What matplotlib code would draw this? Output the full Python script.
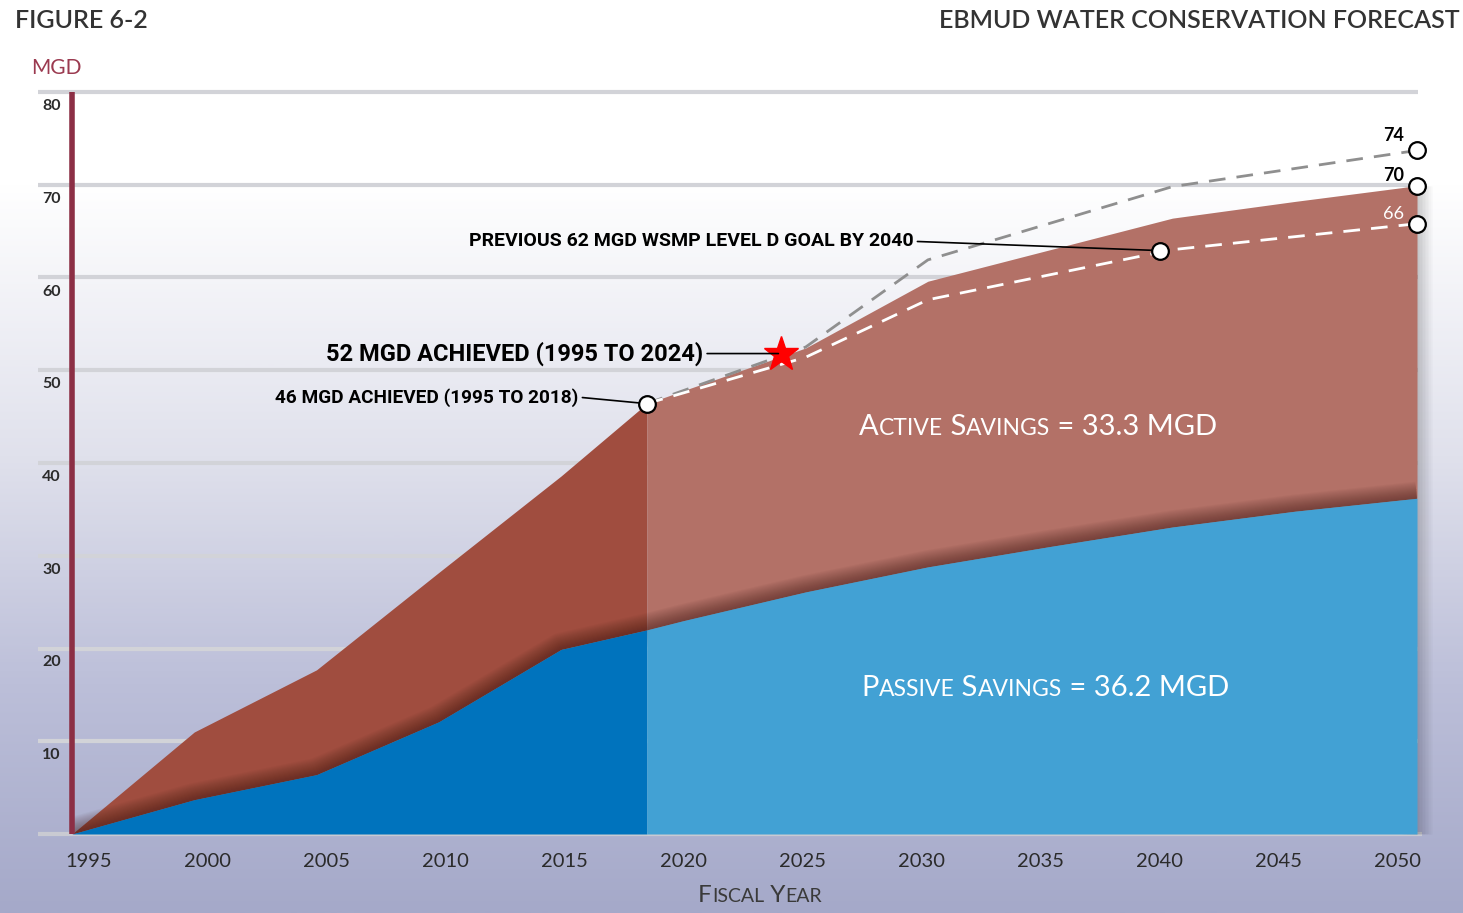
import numpy as np
import matplotlib
matplotlib.use("Agg")
import matplotlib.pyplot as plt
from matplotlib.colors import LinearSegmentedColormap
from matplotlib.offsetbox import TextArea, HPacker, AnnotationBbox
from matplotlib.transforms import ScaledTranslation

# --- data (MGD) ---
years_hist = [1995, 2000, 2005, 2010, 2015, 2018.5]
passive_hist = [0, 3.7, 6.4, 12.1, 19.9, 22.0]
total_hist = [0, 11.0, 17.7, 28.2, 38.6, 46.4]

years_fc = [2018.5, 2020, 2025, 2030, 2035, 2040, 2045, 2050]
passive_fc = [22.0, 23.0, 26.1, 28.8, 31.0, 33.1, 34.8, 36.2]
total_fc = [46.4, 47.8, 52.4, 59.6, 63.0, 66.4, 68.2, 69.9]

years_target = [2018.5, 2025, 2030, 2040, 2050]
target_66 = [46.4, 51.4, 57.6, 63.0, 65.8]
target_74 = [46.4, 52.5, 61.9, 69.8, 73.7]

achieved_2018 = (2018.5, 46.4)
achieved_2024 = (2024, 51.8)
goal_2040 = (2039.5, 62.9)
end_values = [73.7, 69.9, 65.8]
end_labels = ["74", "70", "66"]

tick_years = [1995, 2000, 2005, 2010, 2015, 2020, 2025, 2030, 2035, 2040, 2045, 2050]
y_ticks = [10, 20, 30, 40, 50, 60, 70, 80]

# colours
RED_HIST = "#a04d3f"
RED_FC = "#b37167"
BLUE_HIST = "#0073bd"
BLUE_FC = "#42a1d4"
MAROON = "#8c2f45"
GRID = "#d2d3d8"
TXT = "#2b2b2b"

W, H = 1463, 913
fig = plt.figure(figsize=(W / 100, H / 100), dpi=100)

# background gradient (white top -> lavender bottom)
bg = fig.add_axes([0, 0, 1, 1], zorder=-5)
grad_cmap = LinearSegmentedColormap.from_list(
    "bg", [(0, "#ffffff"), (0.2, "#ffffff"), (0.5, "#e0e1ec"), (0.75, "#bcbfd9"), (1, "#a5a9c9")])
bg.imshow(np.linspace(0, 1, 400)[:, None], aspect="auto", cmap=grad_cmap, extent=[0, 1, 0, 1], origin="upper")
bg.set_axis_off()

# main axes: 1995 at px 72, 2050 at px 1417, 0 at px 834, 80 at px 92
ax = fig.add_axes([72 / W, 79 / H, (1417 - 72) / W, (834 - 92) / H])
ax.set_facecolor("none")
ax.set_xlim(1995, 2050)
ax.set_ylim(0, 80)
for s in ax.spines.values():
    s.set_visible(False)

# grid lines reaching left past the axis
x_grid_left = 1995 - 34 / 24.45
ax.hlines(y_ticks, x_grid_left, 2050.05, color=GRID, lw=3, zorder=1, clip_on=False)
ax.hlines(0, x_grid_left, 2050.2, color="#c9cad2", lw=3, zorder=1, clip_on=False)

# soft shadow at right edge of the area
for lw in np.linspace(22, 2, 10):
    ax.plot([2050, 2050], [0, total_fc[-1]], color="black", lw=lw, alpha=0.02,
            solid_capstyle="butt", zorder=2, clip_on=False)

# active (red) areas
ax.fill_between(years_hist, passive_hist, total_hist, color=RED_HIST, lw=0, zorder=3)
ax.fill_between(years_fc, passive_fc, total_fc, color=RED_FC, lw=0, zorder=3)

# soft shadow along blue/red boundary
bx = years_hist + years_fc[1:]
by = passive_hist + passive_fc[1:]
for lw in np.linspace(24, 1.5, 16):
    ax.plot(bx, by, color="#3a1510", lw=lw, alpha=0.035, zorder=4, solid_capstyle="butt")

# passive (blue) areas
ax.fill_between(years_hist, 0, passive_hist, color=BLUE_HIST, lw=0, zorder=5)
ax.fill_between(years_fc, 0, passive_fc, color=BLUE_FC, lw=0, zorder=5)

# target lines
ax.plot(years_target, target_74, color="#8f8f8f", lw=2, dashes=(6, 4), zorder=6)
ax.plot(years_target, target_66, color="white", lw=2, dashes=(6, 4), zorder=6)

# vertical axis line
ax.plot([1995, 1995], [0, 80], color=MAROON, lw=4, zorder=7, solid_capstyle="butt", clip_on=False)

# markers
circ = dict(marker="o", ms=12, mfc="white", mec="black", mew=1.6, ls="none", zorder=9, clip_on=False)
ax.plot(*achieved_2018, **circ)
ax.plot(*goal_2040, **circ)
ax.plot([2050] * 3, end_values, **circ)
ax.plot(*achieved_2024, marker="*", ms=26, color="#ff0000", mec="#ff0000", ls="none", zorder=9)

# end labels
end_offsets = [(-17, 11), (-17, 7), (-17, 7)]
end_colors = ["black", "black", "white"]
end_weights = ["bold", "bold", "normal"]
for v, lab, off, c, wgt in zip(end_values, end_labels, end_offsets, end_colors, end_weights):
    ax.annotate(lab, (2050, v), xytext=off, textcoords="offset points", ha="center", va="center",
                fontsize=13, color=c, fontweight=wgt, family="Lato", zorder=10)

# annotations with leader lines
lead = dict(arrowstyle="-", color="black", lw=1.2, shrinkA=1, shrinkB=6, relpos=(1, 0.5))
ax.annotate("PREVIOUS 62 MGD WSMP LEVEL D GOAL BY 2040", goal_2040, xytext=(2029.4, 63.9),
            ha="right", va="center", fontsize=14, fontweight="bold", family="Roboto",
            arrowprops=lead, zorder=10)
ax.annotate("52 MGD ACHIEVED (1995 TO 2024)", achieved_2024, xytext=(2020.8, 51.8),
            ha="right", va="center", fontsize=17, fontweight="bold", family="Roboto",
            arrowprops=dict(lead, shrinkB=2), zorder=10)
ax.annotate("46 MGD ACHIEVED (1995 TO 2018)", achieved_2018, xytext=(2015.7, 47.1),
            ha="right", va="center", fontsize=13.7, fontweight="bold", family="Roboto",
            arrowprops=lead, zorder=10)

# ticks
tick_pos = [2020 + (y - 2020) * 0.973 for y in tick_years]
ax.set_xticks(tick_pos)
ax.set_xticklabels([str(y) for y in tick_years], fontsize=14.5, color=TXT, family="Lato")
ax.tick_params(axis="x", length=0, pad=14)
ax.set_yticks(y_ticks)
ax.set_yticklabels([str(v) for v in y_ticks], fontsize=11.5, fontweight="bold", color=TXT, family="Lato")
ax.tick_params(axis="y", length=0, pad=8)
shift = ScaledTranslation(0, -9 / 72, fig.dpi_scale_trans)
for lbl in ax.get_yticklabels():
    lbl.set_transform(lbl.get_transform() + shift)


def small_caps(xy, chunks, big, small, color, coords="data", weight="normal"):
    boxes = [TextArea(t, textprops=dict(fontsize=big if b else small, color=color,
                                        family="Lato", fontweight=weight))
             for t, b in chunks]
    pack = HPacker(children=boxes, align="baseline", pad=0, sep=0)
    ab = AnnotationBbox(pack, xy, xycoords=coords, frameon=False, box_alignment=(0.5, 0.5),
                        pad=0, zorder=10, annotation_clip=False)
    (ax if coords == "data" else fig).add_artist(ab)


small_caps((2034.5, 43.9), [("A", 1), ("CTIVE", 0), (" S", 1), ("AVINGS", 0), (" = 33.3 MGD", 1)],
           21, 16.5, "white")
small_caps((2034.8, 15.7), [("P", 1), ("ASSIVE", 0), (" S", 1), ("AVINGS", 0), (" = 36.2 MGD", 1)],
           21, 16.5, "white")
small_caps((760 / W, 1 - 895 / H), [("F", 1), ("ISCAL", 0), (" Y", 1), ("EAR", 0)],
           17.5, 14, "#3a3a3a", coords="figure fraction")

# titles
fig.text(15 / W, 1 - 20 / H, "FIGURE 6-2", ha="left", va="center", fontsize=18, color="#333333",
         family="Lato", fontweight="semibold")
fig.text(1460 / W, 1 - 20 / H, "EBMUD WATER CONSERVATION FORECAST", ha="right", va="center",
         fontsize=18, color="#333333", family="Lato", fontweight="semibold")
fig.text(56 / W, 1 - 68 / H, "MGD", ha="center", va="center", fontsize=15, color="#9b3a50", family="Lato")

fig.savefig("out.png", dpi=100)
